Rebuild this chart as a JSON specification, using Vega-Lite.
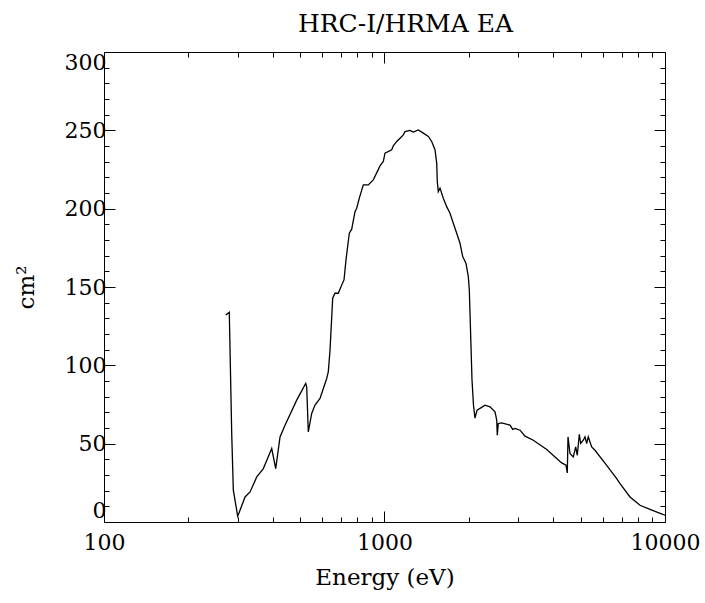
{
  "$schema": "https://vega.github.io/schema/vega-lite/v6.json",
  "width": 561,
  "height": 470,
  "autosize": "none",
  "padding": {"left": 104, "top": 52, "right": 40, "bottom": 81},
  "background": "white",
  "title": {
    "text": "HRC-I/HRMA EA",
    "font": "DejaVu Serif",
    "fontSize": 25,
    "fontWeight": "normal",
    "color": "black",
    "anchor": "middle",
    "dx": 21,
    "offset": 14
  },
  "config": {
    "view": {"stroke": "black", "strokeWidth": 1},
    "axis": {
      "domain": false,
      "grid": false,
      "labelFont": "DejaVu Serif",
      "labelFontSize": 22,
      "labelColor": "black",
      "tickColor": "black",
      "tickWidth": 1,
      "titleFont": "DejaVu Serif",
      "titleFontSize": 23,
      "titleFontWeight": "normal",
      "titleColor": "black"
    }
  },
  "data": {
    "values": [
      {"E": 271.6, "A": 132.1},
      {"E": 279.7, "A": 133.8},
      {"E": 285.3, "A": 56.5},
      {"E": 289.1, "A": 20.3},
      {"E": 299.7, "A": 3.6},
      {"E": 305.4, "A": 7.5},
      {"E": 318.3, "A": 16.0},
      {"E": 331.6, "A": 19.2},
      {"E": 350.4, "A": 28.8},
      {"E": 369.9, "A": 34.1},
      {"E": 396.2, "A": 46.9},
      {"E": 409.4, "A": 34.1},
      {"E": 424.2, "A": 54.3},
      {"E": 441.9, "A": 61.8},
      {"E": 486.4, "A": 77.8},
      {"E": 523.7, "A": 88.5},
      {"E": 528.0, "A": 86.3},
      {"E": 535.0, "A": 57.5},
      {"E": 550.2, "A": 69.3},
      {"E": 565.2, "A": 74.6},
      {"E": 589.0, "A": 78.9},
      {"E": 622.2, "A": 91.6},
      {"E": 630.5, "A": 95.9},
      {"E": 639.4, "A": 109.7},
      {"E": 653.6, "A": 142.8},
      {"E": 666.1, "A": 146.0},
      {"E": 684.4, "A": 146.0},
      {"E": 703.8, "A": 151.3},
      {"E": 717.2, "A": 154.5},
      {"E": 729.0, "A": 167.3},
      {"E": 749.1, "A": 184.3},
      {"E": 764.0, "A": 186.9},
      {"E": 784.9, "A": 198.1},
      {"E": 796.0, "A": 200.3},
      {"E": 813.2, "A": 206.7},
      {"E": 840.3, "A": 215.2},
      {"E": 875.4, "A": 215.2},
      {"E": 912.2, "A": 218.4},
      {"E": 963.8, "A": 227.3},
      {"E": 990.2, "A": 230.1},
      {"E": 1004.1, "A": 235.4},
      {"E": 1061.0, "A": 237.6},
      {"E": 1075.0, "A": 240.1},
      {"E": 1105.4, "A": 242.9},
      {"E": 1136.0, "A": 245.0},
      {"E": 1166.9, "A": 247.1},
      {"E": 1183.4, "A": 249.2},
      {"E": 1233.0, "A": 249.9},
      {"E": 1266.9, "A": 248.9},
      {"E": 1319.9, "A": 250.3},
      {"E": 1375.2, "A": 248.2},
      {"E": 1432.8, "A": 246.1},
      {"E": 1473.3, "A": 242.9},
      {"E": 1513.6, "A": 237.6},
      {"E": 1535.0, "A": 229.1},
      {"E": 1542.5, "A": 217.3},
      {"E": 1555.3, "A": 210.9},
      {"E": 1577.2, "A": 213.1},
      {"E": 1620.3, "A": 206.7},
      {"E": 1666.1, "A": 201.3},
      {"E": 1712.0, "A": 197.1},
      {"E": 1759.1, "A": 190.7},
      {"E": 1808.8, "A": 184.3},
      {"E": 1858.6, "A": 177.9},
      {"E": 1900.2, "A": 169.4},
      {"E": 1952.5, "A": 165.1},
      {"E": 1989.7, "A": 156.6},
      {"E": 2006.3, "A": 148.1},
      {"E": 2026.0, "A": 122.5},
      {"E": 2051.0, "A": 90.6},
      {"E": 2076.0, "A": 74.6},
      {"E": 2102.0, "A": 66.3},
      {"E": 2137.0, "A": 71.4},
      {"E": 2190.6, "A": 72.5},
      {"E": 2282.5, "A": 74.6},
      {"E": 2377.8, "A": 73.5},
      {"E": 2477.3, "A": 70.3},
      {"E": 2511.9, "A": 65.0},
      {"E": 2524.0, "A": 55.4},
      {"E": 2545.0, "A": 62.9},
      {"E": 2617.0, "A": 63.3},
      {"E": 2802.0, "A": 61.8},
      {"E": 2864.6, "A": 59.1},
      {"E": 2919.2, "A": 59.7},
      {"E": 3042.1, "A": 58.6},
      {"E": 3169.4, "A": 54.8},
      {"E": 3393.0, "A": 52.2},
      {"E": 3787.4, "A": 46.3},
      {"E": 4282.0, "A": 37.7},
      {"E": 4437.0, "A": 36.2},
      {"E": 4484.2, "A": 31.3},
      {"E": 4510.0, "A": 54.3},
      {"E": 4584.7, "A": 43.7},
      {"E": 4710.6, "A": 41.5},
      {"E": 4803.9, "A": 47.9},
      {"E": 4867.5, "A": 42.6},
      {"E": 4948.5, "A": 56.0},
      {"E": 5005.7, "A": 50.1},
      {"E": 5113.0, "A": 52.2},
      {"E": 5184.9, "A": 54.3},
      {"E": 5257.3, "A": 50.1},
      {"E": 5327.6, "A": 54.3},
      {"E": 5478.1, "A": 47.9},
      {"E": 5627.8, "A": 45.8},
      {"E": 6196.5, "A": 36.2},
      {"E": 6726.4, "A": 27.7},
      {"E": 6912.7, "A": 24.5},
      {"E": 7502.4, "A": 16.0},
      {"E": 8144.1, "A": 10.7},
      {"E": 8841.4, "A": 8.1},
      {"E": 9464.0, "A": 6.0},
      {"E": 10000.0, "A": 4.3}
    ]
  },
  "resolve": {"scale": {"x": "shared", "y": "shared"}, "axis": {"x": "independent", "y": "independent"}},
  "layer": [
    {
      "mark": {"type": "line", "color": "black", "strokeWidth": 1.3, "clip": true},
      "encoding": {
        "x": {"field": "E", "type": "quantitative",
              "scale": {"type": "log", "domain": [100, 10000], "nice": false},
              "axis": {"orient": "bottom", "title": "Energy (eV)", "values": [100, 1000, 10000], "format": "d",
                       "tickSize": -11, "labelPadding": 21, "titlePadding": 13, "labelFlush": false}},
        "y": {"field": "A", "type": "quantitative",
              "scale": {"domain": [0, 300], "nice": false, "zero": false},
              "axis": {"orient": "left", "title": "cm²", "values": [0, 50, 100, 150, 200, 250, 300],
                       "tickSize": -11, "labelPadding": 9, "titlePadding": 26, "labelFlush": true}}
      }
    },
    {
      "mark": {"type": "line", "strokeOpacity": 0},
      "encoding": {
        "x": {"field": "E", "type": "quantitative",
              "axis": {"orient": "top", "title": null, "values": [100, 1000, 10000], "labels": false, "tickSize": -11}},
        "y": {"field": "A", "type": "quantitative",
              "axis": {"orient": "right", "title": null, "values": [0, 50, 100, 150, 200, 250, 300], "labels": false, "tickSize": -11}}
      }
    },
    {
      "mark": {"type": "line", "strokeOpacity": 0},
      "encoding": {
        "x": {"field": "E", "type": "quantitative",
              "axis": {"orient": "bottom", "title": null, "values": [200, 300, 400, 500, 600, 700, 800, 900, 2000, 3000, 4000, 5000, 6000, 7000, 8000, 9000], "labels": false, "tickSize": -5}},
        "y": {"field": "A", "type": "quantitative",
              "axis": {"orient": "left", "title": null, "values": [10, 20, 30, 40, 60, 70, 80, 90, 110, 120, 130, 140, 160, 170, 180, 190, 210, 220, 230, 240, 260, 270, 280, 290], "labels": false, "tickSize": -5}}
      }
    },
    {
      "mark": {"type": "line", "strokeOpacity": 0},
      "encoding": {
        "x": {"field": "E", "type": "quantitative",
              "axis": {"orient": "top", "title": null, "values": [200, 300, 400, 500, 600, 700, 800, 900, 2000, 3000, 4000, 5000, 6000, 7000, 8000, 9000], "labels": false, "tickSize": -5}},
        "y": {"field": "A", "type": "quantitative",
              "axis": {"orient": "right", "title": null, "values": [10, 20, 30, 40, 60, 70, 80, 90, 110, 120, 130, 140, 160, 170, 180, 190, 210, 220, 230, 240, 260, 270, 280, 290], "labels": false, "tickSize": -5}}
      }
    }
  ]
}
